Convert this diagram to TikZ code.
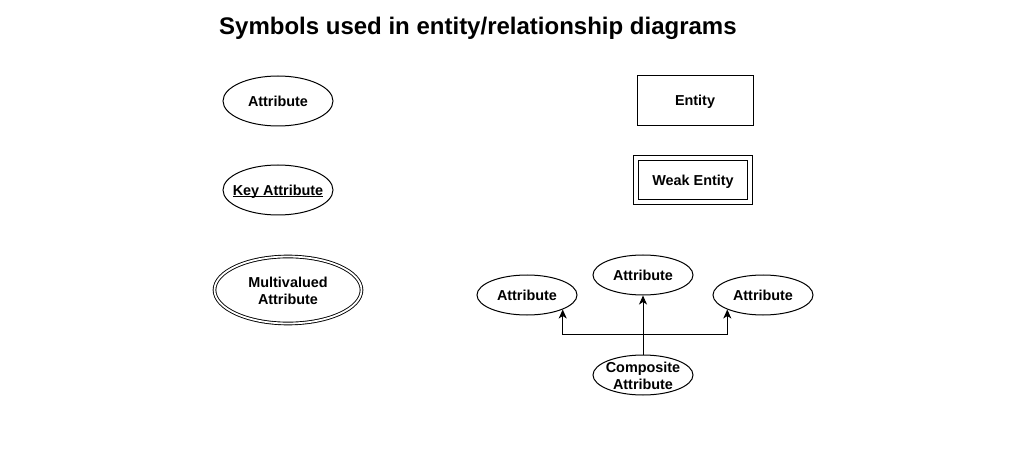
\documentclass[tikz,border=0pt]{standalone}
\usepackage{fontspec}
\setmainfont{Liberation Sans}
\usetikzlibrary{shapes.geometric,arrows.meta}
\begin{document}
\begin{tikzpicture}[x=1pt,y=-1pt,
  lbl/.style={font=\fontsize{14.4}{17}\selectfont\bfseries, align=center, inner sep=0pt},
  one/.style={text depth=0pt},
  attr/.style={draw, line width=1pt, ellipse, inner sep=0pt, minimum width=110pt, minimum height=50pt},
  sattr/.style={attr, minimum width=100pt, minimum height=40pt},
  mattr/.style={draw, ellipse, inner sep=0pt, line width=0.9pt, double, double distance=1.8pt, minimum width=147pt, minimum height=67pt},
  ent/.style={lbl, one, draw, line width=1pt, rectangle, minimum width=116pt, minimum height=50pt},
  went/.style={lbl, one, draw, line width=1pt, rectangle, double, double distance=4pt, minimum width=114pt, minimum height=44pt},
  arr/.style={line width=1pt, -{Stealth[length=9pt,width=8pt,inset=2.5pt]}}
]
\useasboundingbox (0,0) rectangle (1022,454);
\node[anchor=west, inner sep=0pt, font=\fontsize{24}{28}\selectfont\bfseries] (title) at (219,28) {Symbols used in entity/relationship diagrams};
\node[attr, label={[lbl,one]center:Attribute}] (a1) at (278,101) {};
\node[attr, label={[lbl,one]center:\underline{\raisebox{0pt}[\height][0pt]{Key Attribute}}}] (ka) at (278,190) {};
\node[mattr, label={[lbl,yshift=-1pt]center:Multivalued\\Attribute}] (mv) at (288,290) {};
\node[ent] (e) at (695,100.5) {Entity};
\node[went] (we) at (693,180.5) {Weak Entity};
\node[sattr, label={[lbl,one]center:Attribute}] (top) at (643,275) {};
\node[sattr, label={[lbl,one]center:Attribute}] (left) at (527,295) {};
\node[sattr, label={[lbl,one]center:Attribute}] (right) at (763,295) {};
\node[sattr, label={[lbl,yshift=-1pt]center:Composite\\Attribute}] (comp) at (643,375) {};
\draw[arr] (comp.north) -- (top.south);
\draw[arr] (comp.north) -- ++(0,-20) -| (left.south east);
\draw[arr] (comp.north) -- ++(0,-20) -| (right.south west);
\end{tikzpicture}
\end{document}
